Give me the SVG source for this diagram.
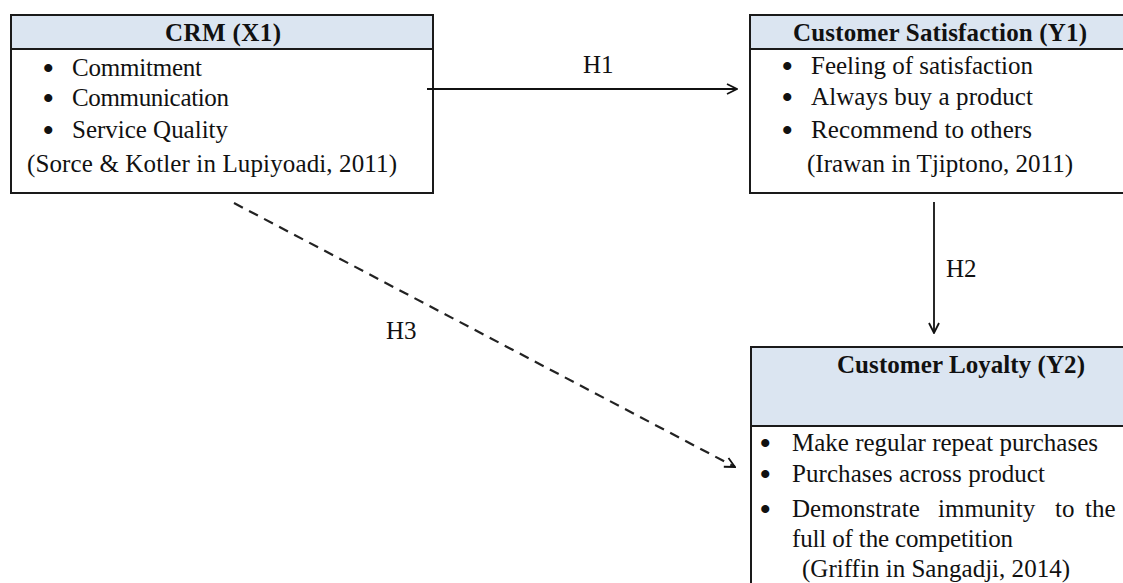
<svg xmlns="http://www.w3.org/2000/svg" width="1123" height="583" viewBox="0 0 1123 583">
<style>
.box{fill:#ffffff;stroke:#1a1a1a;stroke-width:2}
.hdr{fill:#dbe5f1;stroke:#1a1a1a;stroke-width:2}
text{font-family:"Liberation Serif","Times New Roman",serif;font-size:25px;fill:#111}
.b{font-weight:bold}
.c{text-anchor:middle}
.bu{font-size:30px;font-weight:bold}
.con{stroke:#111;stroke-width:1.8;fill:none}
.dash{stroke-dasharray:10 7;stroke-width:2.2;stroke:#222}
</style>
<defs>
<marker id="ah" viewBox="0 0 12 12" refX="11" refY="6" markerWidth="12" markerHeight="12" markerUnits="userSpaceOnUse" orient="auto">
<path d="M1,1 L11,6 L1,11" fill="none" stroke="#111" stroke-width="1.8"/>
</marker>
</defs>
<rect width="1123" height="583" fill="#ffffff"/>
<g id="crm">
<rect class="box" x="11" y="15" width="422" height="178"/>
<rect class="hdr" x="11" y="15" width="422" height="34"/>
<text class="b c" x="223" y="41" textLength="116">CRM (X1)</text>
<text class="bu" x="43" y="78">•</text><text x="72" y="76" textLength="130">Commitment</text>
<text class="bu" x="43" y="108">•</text><text x="72" y="106" textLength="157">Communication</text>
<text class="bu" x="43" y="140">•</text><text x="72" y="138" textLength="156">Service Quality</text>
<text x="27" y="172" textLength="370">(Sorce &amp; Kotler in Lupiyoadi, 2011)</text>
</g>
<g id="satisfaction">
<rect class="box" x="750" y="15" width="376" height="178"/>
<rect class="hdr" x="750" y="15" width="376" height="34"/>
<text class="b" x="793" y="41" textLength="294">Customer Satisfaction (Y1)</text>
<text class="bu" x="782" y="76">•</text><text x="811" y="74" textLength="222">Feeling of satisfaction</text>
<text class="bu" x="782" y="107">•</text><text x="811" y="105" textLength="222">Always buy a product</text>
<text class="bu" x="782" y="140">•</text><text x="811" y="138" textLength="221">Recommend  to others</text>
<text x="807" y="172" textLength="266">(Irawan in Tjiptono, 2011)</text>
</g>
<g id="loyalty">
<rect class="box" x="751" y="347" width="376" height="250"/>
<rect class="hdr" x="751" y="347" width="376" height="79"/>
<text class="b" x="837" y="373" textLength="248">Customer Loyalty (Y2)</text>
<text class="bu" x="760" y="453">•</text><text x="792" y="451" textLength="306">Make regular repeat purchases</text>
<text class="bu" x="760" y="484">•</text><text x="792" y="482" textLength="253">Purchases across product</text>
<text class="bu" x="760" y="519">•</text>
<text y="517"><tspan x="792">Demonstrate</tspan><tspan x="938">immunity</tspan><tspan x="1055">to</tspan><tspan x="1085">the</tspan></text>
<text x="792" y="547" textLength="221">full of the competition</text>
<text x="802" y="577" textLength="268">(Griffin in Sangadji, 2014)</text>
</g>
<g id="connectors">
<line class="con" x1="427" y1="89" x2="737" y2="89" marker-end="url(#ah)"/>
<line class="con" x1="934" y1="202" x2="934" y2="333" marker-end="url(#ah)"/>
<line class="con dash" x1="234" y1="203" x2="735" y2="467" marker-end="url(#ah)"/>
<text x="583" y="73">H1</text>
<text x="946" y="277">H2</text>
<text x="386" y="339">H3</text>
</g>
</svg>
